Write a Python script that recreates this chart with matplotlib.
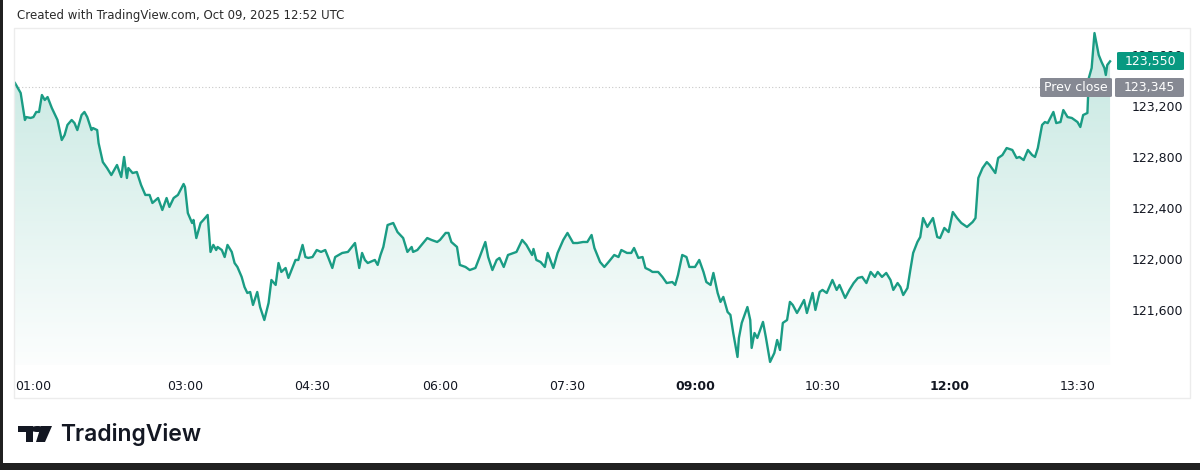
import numpy as np
import matplotlib
matplotlib.use("Agg")
import matplotlib.pyplot as plt
import matplotlib.patches as patches
from matplotlib.colors import LinearSegmentedColormap

# minutes after 01:00 and last price
MINUTES = [0, 4, 7, 8, 11, 13, 15, 17, 19, 21, 23, 26, 30, 33, 35, 37, 40, 42, 44, 47,
           49, 51, 54, 55, 58, 59, 62, 65, 68, 72, 75, 77, 79, 80, 83, 86, 89, 92, 95, 97,
           101, 104, 107, 109, 112, 115, 119, 120, 122, 125, 126, 128, 131, 133, 136, 138, 140, 142, 143, 146,
           148, 150, 153, 155, 157, 160, 162, 164, 166, 168, 171, 173, 176, 179, 181, 184, 186, 188, 191, 193,
           196, 198, 200, 203, 205, 207, 210, 213, 216, 219, 221, 224, 226, 231, 235, 240, 243, 245, 247, 249,
           254, 256, 258, 260, 263, 267, 270, 274, 277, 280, 281, 284, 287, 291, 294, 298, 300, 304, 306, 308,
           312, 314, 318, 321, 325, 328, 332, 334, 337, 340, 342, 345, 348, 352, 354, 358, 361, 365, 366, 368,
           371, 374, 376, 380, 383, 387, 390, 394, 397, 401, 404, 407, 409, 413, 416, 419, 423, 426, 428, 432,
           435, 437, 440, 443, 445, 448, 450, 454, 457, 460, 464, 466, 468, 471, 474, 476, 480, 483, 486, 488,
           491, 493, 496, 498, 500, 503, 505, 507, 510, 511, 513, 517, 519, 520, 522, 524, 528, 530, 533, 536,
           538, 540, 542, 545, 547, 549, 552, 554, 557, 559, 563, 565, 568, 570, 573, 577, 580, 582, 586, 589,
           592, 595, 598, 601, 604, 607, 609, 612, 615, 618, 620, 623, 625, 627, 630, 632, 634, 637, 639, 641,
           644, 648, 651, 653, 656, 659, 662, 665, 668, 672, 676, 678, 680, 683, 686, 688, 692, 694, 697, 700,
           704, 707, 709, 712, 715, 718, 720, 722, 725, 727, 729, 733, 735, 738, 740, 743, 746, 750, 752, 754,
           757, 758, 760, 762, 764, 765, 767, 769, 770, 771, 773]
PRICES = [123380, 123302, 123090, 123113, 123106, 123113, 123153, 123153, 123286, 123247,
          123270, 123184, 123090, 122933, 122972, 123051, 123090, 123066, 123011, 123129,
          123153, 123113, 123011, 123027, 123011, 122909, 122760, 122713, 122658, 122737,
          122643, 122800, 122635, 122713, 122674, 122682, 122580, 122502, 122502, 122439,
          122478, 122384, 122478, 122408, 122478, 122502, 122588, 122564, 122360, 122282,
          122306, 122164, 122282, 122306, 122345, 122055, 122110, 122070, 122094, 122070,
          122015, 122110, 122055, 121968, 121937, 121859, 121780, 121733, 121741, 121639,
          121741, 121623, 121521, 121655, 121835, 121796, 121968, 121898, 121929, 121851,
          121937, 121992, 121992, 122110, 122015, 122008, 122015, 122070, 122055, 122070,
          122015, 121929, 122015, 122047, 122055, 122125, 121929, 122047, 121992, 121968,
          121992, 121953, 122031, 122094, 122266, 122282, 122211, 122164, 122055, 122094,
          122055, 122070, 122110, 122164, 122149, 122133, 122149, 122204, 122204, 122133,
          122094, 121953, 121937, 121913, 121929, 122015, 122133, 122015, 121913, 121992,
          122008, 121937, 122031, 122047, 122055, 122149, 122110, 122031, 122078, 121992,
          121976, 121937, 122047, 121929, 122047, 122149, 122204, 122125, 122125, 122133,
          122133, 122188, 122086, 121976, 121937, 121976, 122031, 122015, 122070, 122047,
          122047, 122086, 122008, 122015, 121929, 121913, 121898, 121898, 121859, 121811,
          121819, 121796, 121874, 122031, 122015, 121937, 121937, 121992, 121898, 121819,
          121796, 121890, 121733, 121663, 121702, 121584, 121561, 121419, 121231, 121380,
          121498, 121623, 121521, 121302, 121419, 121380, 121506, 121388, 121192, 121262,
          121364, 121286, 121498, 121521, 121663, 121639, 121576, 121615, 121678, 121576,
          121733, 121600, 121741, 121757, 121733, 121835, 121757, 121796, 121694, 121757,
          121811, 121851, 121859, 121811, 121898, 121859, 121898, 121859, 121890, 121835,
          121757, 121811, 121780, 121717, 121772, 121913, 122047, 122133, 122172, 122321,
          122251, 122321, 122172, 122164, 122243, 122211, 122368, 122321, 122282, 122251,
          122290, 122321, 122635, 122713, 122760, 122737, 122674, 122792, 122815, 122870,
          122855, 122792, 122800, 122776, 122855, 122815, 122800, 122870, 123051, 123074,
          123066, 123153, 123066, 123074, 123168, 123113, 123106, 123074, 123035, 123129,
          123145, 123419, 123498, 123772, 123655, 123600, 123545, 123498, 123443, 123521,
          123550]

PRICE_TICKS = [121600, 122000, 122400, 122800, 123200, 123600]
TIME_TICKS = [0, 120, 210, 300, 390, 480, 570, 660, 750]
TIME_LABELS = ["01:00", "03:00", "04:30", "06:00", "07:30", "09:00", "10:30", "12:00", "13:30"]
PREV_CLOSE = 123345
LAST_PRICE = 123550

LINE = "#1a9c84"
GREEN = "#089981"
GREY = "#868993"
W, H = 1200, 470


def fx(px):
    return px / W


def fy(py):
    return 1 - py / H


fig = plt.figure(figsize=(12, 4.7), dpi=100)
fig.patch.set_facecolor("white")

# plot area (pixel box 15..1118 x 30..365)
ax = fig.add_axes([fx(15), fy(365), fx(1118) - fx(15), fy(30) - fy(365)])
ax.patch.set_alpha(0)
ymin, ymax = 121168, 123796
xmax = 778.6
ax.set_xlim(0, xmax)
ax.set_ylim(ymin, ymax)
for s in ax.spines.values():
    s.set_visible(False)

t = np.array(MINUTES)
p = np.array(PRICES)

# gradient area under the line
cmap = LinearSegmentedColormap.from_list("g", ["#ffffff", "#c4e7e0"])
grad = np.linspace(0.05, 1, 256).reshape(-1, 1)
poly = ax.fill_between(t, p, ymin, color="none", lw=0)
im = ax.imshow(grad, extent=[0, xmax, ymin, ymax], origin="lower", aspect="auto",
               cmap=cmap, vmin=0, vmax=1, zorder=1)
im.set_clip_path(poly.get_paths()[0], transform=ax.transData)
ax.plot(t, p, color=LINE, lw=1.7, zorder=3, solid_joinstyle="round")

# prev close dotted line
ax.plot([0, 730], [PREV_CLOSE, PREV_CLOSE], color="#c8c8c8", lw=0.8, ls=(0, (1, 2)), zorder=2)

# axes ticks
ax.yaxis.tick_right()
ax.set_yticks(PRICE_TICKS)
ax.set_yticklabels(["{:,}".format(v) for v in PRICE_TICKS])
ax.tick_params(axis="y", length=0, pad=10, labelsize=9, labelcolor="#131722")
ax.set_xticks(TIME_TICKS)
ax.set_xticklabels(TIME_LABELS)
ax.tick_params(axis="x", length=0, pad=11, labelsize=9, labelcolor="#131722")
for lab in ax.get_xticklabels():
    if lab.get_text() in ("09:00", "12:00"):
        lab.set_fontweight("bold")
ax.get_xticklabels()[0].set_horizontalalignment("left")

# chart frame
fig.add_artist(patches.Rectangle((fx(14), fy(398)), fx(1190) - fx(14), fy(28) - fy(398),
                                 fill=False, ec="#ececec", lw=1))

# price boxes
def box(x0, x1, y0, y1, color, text):
    fig.add_artist(patches.FancyBboxPatch((fx(x0), fy(y1)), fx(x1) - fx(x0), fy(y0) - fy(y1),
                                          boxstyle="round,pad=0,rounding_size=0.002",
                                          fc=color, ec="none", zorder=5))
    fig.text(fx((x0 + x1) / 2), fy((y0 + y1) / 2), text, color="white", fontsize=9,
             ha="center", va="center", zorder=6)

box(1117, 1184, 52, 70, GREEN, "{:,}".format(LAST_PRICE))
box(1040, 1112, 78, 97, GREY, "Prev close")
box(1115, 1184, 78, 97, GREY, "{:,}".format(PREV_CLOSE))

# header
fig.text(fx(17), fy(16), "Created with TradingView.com, Oct 09, 2025 12:52 UTC",
         fontsize=8.5, color="#2a2a2a", ha="left", va="center")

# TradingView logo
logo = [
    [(18, 426), (33, 426), (33, 442), (26, 442), (26, 432), (18, 432)],
    [(41, 426), (52, 426), (45, 442), (36, 442)],
]
for pts in logo:
    fig.add_artist(patches.Polygon([(fx(a), fy(b)) for a, b in pts], closed=True,
                                   fc="#131722", ec="none"))
fig.add_artist(patches.Circle((fx(37.5), fy(429)), 3 / H, fc="#131722", ec="none"))
fig.text(fx(60), fy(434), "TradingView", fontsize=16.5, fontweight="semibold",
         family="Inter", color="#131722", ha="left", va="center")

# dark screenshot edges
fig.add_artist(patches.Rectangle((0, 0), fx(3), 1, fc="#202020", ec="none"))
fig.add_artist(patches.Rectangle((0, 0), 1, fy(463), fc="#202020", ec="none"))

fig.savefig("out.png", dpi=100)
